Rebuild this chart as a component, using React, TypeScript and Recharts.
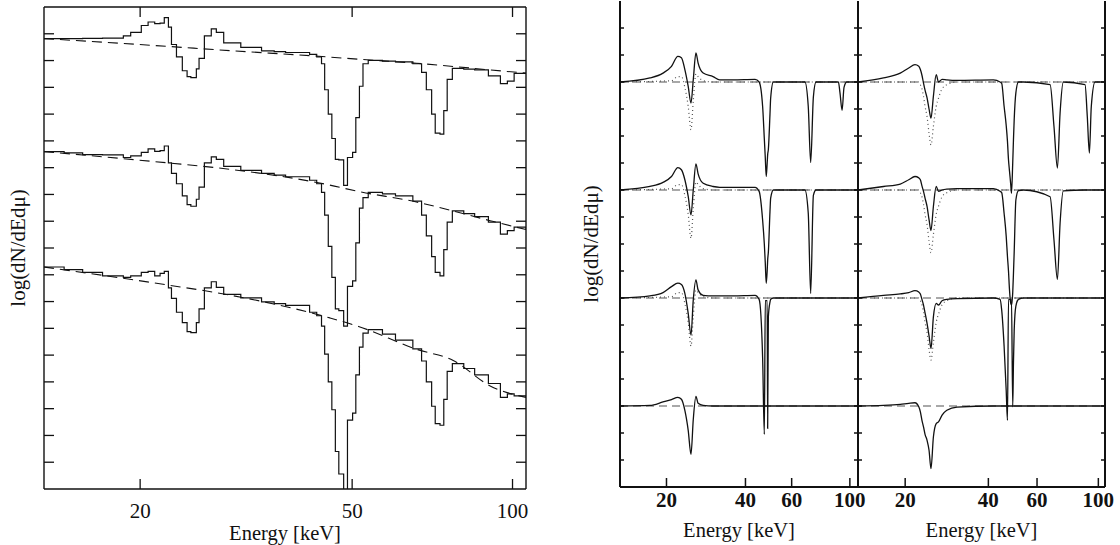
import { LineChart, Line, XAxis, YAxis, ReferenceLine } from "recharts";

const SERIF = '"Liberation Serif", "Times New Roman", serif';
const INK = "#111";

// ---- left panel: binned spectra (three cases) + continuum model ----
const leftEnergy = [
  13.2, 14.4, 15.6, 17.0, 18.6, 19.2, 20.1, 20.7, 21.3, 21.8,
  22.2, 22.6, 22.9, 23.4, 24.0, 24.5, 24.9, 25.5, 25.8, 26.4,
  27.2, 27.8, 28.7, 30.9, 33.8, 35.7, 37.5, 41.6, 42.9, 43.8,
  44.4, 45.1, 45.8, 46.5, 47.2, 47.5, 48.2, 48.6, 49.0, 50.1,
  50.8, 51.6, 52.4, 53.6, 57.0, 60.3, 65.0, 67.5, 68.9, 70.5,
  71.6, 73.1, 74.3, 75.4, 77.1, 81.0, 84.9, 90.1, 94.9, 97.8,
  100.7, 106.0,
];
const leftTop = [
  16.82, 16.82, 16.83, 16.84, 16.92, 17.05, 17.31, 17.44, 17.38, 17.4,
  17.6, 17.25, 16.6, 16.14, 15.62, 15.4, 15.36, 15.69, 16.08, 16.92,
  17.18, 17.05, 16.66, 16.49, 16.36, 16.33, 16.3, 16.23, 16.14, 15.88,
  14.91, 14.0, 13.09, 12.31, 12.29, 12.29, 11.34, 11.34, 12.38, 12.57,
  13.87, 15.04, 15.88, 16.01, 15.98, 15.95, 15.88, 15.56, 14.91, 14.0,
  13.29, 13.25, 14.13, 15.3, 15.71, 15.68, 15.65, 15.43, 15.14, 15.23,
  15.52, 15.53,
];
const leftMid = [
  12.6, 12.55, 12.49, 12.48, 12.38, 12.44, 12.57, 12.7, 12.61, 12.64,
  12.81, 12.18, 11.79, 11.4, 10.95, 10.62, 10.56, 10.82, 11.27, 12.18,
  12.4, 12.31, 12.05, 11.9, 11.79, 11.72, 11.66, 11.53, 11.4, 11.08,
  10.23, 9.06, 7.9, 6.73, 6.66, 6.66, 6.08, 6.08, 7.57, 7.77,
  9.19, 10.49, 10.88, 11.08, 11.02, 10.95, 10.75, 10.23, 9.45, 8.68,
  8.09, 7.96, 8.94, 9.97, 10.39, 10.28, 10.17, 9.97, 9.52, 9.65,
  9.78, 9.69,
];
const leftLow = [
  8.29, 8.19, 8.09, 7.96, 7.9, 7.96, 8.09, 8.13, 7.96, 8.05,
  8.13, 7.51, 7.12, 6.6, 6.21, 5.88, 5.84, 6.21, 6.73, 7.51,
  7.74, 7.53, 7.27, 7.14, 6.99, 6.92, 6.86, 6.6, 6.47, 6.08,
  5.04, 4.0, 2.96, 1.4, 0.56, 0.56, -0.5, -0.5, 2.57, 2.83,
  4.26, 5.3, 5.82, 5.95, 5.78, 5.56, 5.23, 4.78, 4.0, 3.09,
  2.44, 2.38, 3.35, 4.39, 4.68, 4.5, 4.26, 3.94, 3.42, 3.55,
  3.48, 3.42,
];
const contEnergy = [13.2, 22.5, 28, 45.4, 51.4, 66, 77.4, 90.8, 106];
const contTop = [16.82, 16.53, 16.4, 16.13, 16.05, 15.9, 15.78, 15.65, 15.53];
const contMid = [12.6, 12.18, 11.99, 11.35, 11.11, 10.72, 10.38, 10.02, 9.69];
const contLow = [8.29, 7.62, 7.32, 6.39, 6.07, 5.22, 4.8, 3.85, 3.42];

// ---- right panels: four cases each, baselines at 15, 11, 7, 3 ----
const baselines = [15, 11, 7, 3];

const rlEnergy = [
  13.3, 17.3, 19.4, 20.9, 22.1, 22.8, 23.5, 24.2, 24.8, 25.3,
  25.9, 26.4, 27.6, 30.1, 31.9, 35.9, 43.5, 45.1, 46.5, 47.2,
  47.6, 48.0, 48.4, 48.6, 48.9, 49.6, 49.9, 51.1, 57.4, 67.4,
  69.4, 70.9, 72.6, 74.3, 81.6, 90.4, 91.7, 93.4, 95.0, 97.3,
  107.4,
];
const rl1 = [
  15.0, 15.15, 15.33, 15.58, 15.95, 15.9, 15.46, 14.84, 14.22, 15.08,
  16.08, 15.7, 15.33, 15.2, 15.08, 15.08, 15.1, 15.0, 14.1, 12.9,
  12.2, 11.5, 12.0, 12.3, 12.5, 13.8, 14.4, 15.0, 15.0, 15.0,
  14.1, 12.02, 14.45, 15.0, 15.0, 15.0, 14.6, 13.95, 14.8, 15.0,
  15.0,
];
const rl2 = [
  11.0, 11.13, 11.28, 11.5, 11.83, 11.75, 11.38, 10.76, 10.08, 11.0,
  11.97, 11.6, 11.25, 11.13, 11.1, 11.1, 11.1, 10.95, 9.89, 9.0,
  8.3, 7.54, 8.0, 8.4, 8.7, 10.2, 10.7, 11.0, 11.0, 11.0,
  10.15, 7.17, 10.8, 11.0, 11.0, 11.0, 11.0, 11.0, 11.0, 11.0,
  11.0,
];
const rl3 = [
  7.0, 7.08, 7.2, 7.42, 7.55, 7.5, 7.17, 6.43, 5.63, 6.93,
  7.67, 7.3, 7.1, 7.08, 7.08, 7.08, 7.1, 6.95, 4.8, 1.95,
  6.9, 6.9, 6.9, 2.17, 6.3, 6.85, 6.95, 7.0, 7.0, 7.0,
  7.0, 7.0, 7.0, 7.0, 7.0, 7.0, 7.0, 7.0, 7.0, 7.0,
  7.0,
];
const rl4 = [
  3.0, 3.02, 3.15, 3.24, 3.32, 3.25, 2.84, 2.1, 1.21, 2.5,
  3.36, 3.1, 3.02, 3.0, 3.0, 3.0, 3.0, 3.0, 3.0, 3.0,
  3.0, 3.0, 3.0, 3.0, 3.0, 3.0, 3.0, 3.0, 3.0, 3.0,
  3.0, 3.0, 3.0, 3.0, 3.0, 3.0, 3.0, 3.0, 3.0, 3.0,
  3.0,
];
const rlDotEnergy = [13.3, 20.9, 22.1, 22.8, 23.5, 24.2, 24.8, 25.3, 25.9, 26.4, 27.6, 30.1, 107.4];
const rlDot1 = [15.0, 15.05, 15.2, 15.2, 14.8, 14.1, 13.23, 14.3, 15.3, 15.2, 15.05, 15.0, 15.0];
const rlDot2 = [11.0, 11.05, 11.2, 11.2, 10.8, 10.1, 9.21, 10.3, 11.3, 11.2, 11.05, 11.0, 11.0];
const rlDot3 = [7.0, 7.05, 7.2, 7.2, 6.8, 6.1, 5.22, 6.3, 7.3, 7.2, 7.05, 7.0, 7.0];

const rrEnergy = [
  13.5, 16.7, 19.2, 20.6, 21.7, 22.4, 22.7, 23.0, 23.3, 23.6,
  24.0, 24.4, 24.8, 25.3, 25.9, 26.4, 27.2, 28.3, 30.8, 41.7,
  44.1, 44.7, 45.6, 46.4, 46.9, 47.3, 47.7, 48.2, 48.5, 49.0,
  49.3, 49.6, 50.3, 51.4, 53.6, 66.9, 69.1, 71.1, 72.7, 74.7,
  89.5, 91.2, 92.8, 94.3, 97.3, 105.7,
];
const rr1 = [
  15.0, 15.15, 15.33, 15.52, 15.64, 15.58, 15.46, 15.25, 14.96, 14.7,
  14.41, 14.0, 13.66, 14.47, 15.27, 15.0, 15.1, 15.08, 15.06, 15.08,
  15.0, 14.95, 14.1, 13.4, 12.8, 12.12, 11.7, 11.2, 10.88, 12.0,
  12.86, 13.6, 14.6, 15.0, 15.0, 14.9, 13.35, 11.81, 13.85, 15.0,
  14.9, 13.72, 12.37, 14.1, 15.0, 15.0,
];
const rr2 = [
  11.0, 11.13, 11.22, 11.38, 11.5, 11.45, 11.38, 11.15, 10.95, 10.7,
  10.39, 9.9, 9.5, 10.39, 11.13, 10.95, 11.0, 11.03, 11.05, 11.05,
  10.95, 10.9, 10.14, 9.3, 8.53, 8.0, 7.3, 6.8, 6.74, 7.2,
  7.91, 8.7, 10.63, 10.98, 11.0, 10.75, 9.15, 7.69, 9.77, 10.97,
  11.0, 11.0, 11.0, 11.0, 11.0, 11.0,
];
const rr3 = [
  7.0, 7.1, 7.15, 7.2, 7.27, 7.22, 7.15, 6.95, 6.74, 6.45,
  6.06, 5.6, 5.13, 6.3, 6.8, 6.74, 6.9, 6.95, 6.98, 7.0,
  6.95, 6.55, 5.22, 3.59, 2.47, 6.95, 6.95, 6.95, 6.95, 2.97,
  4.6, 5.8, 6.7, 6.95, 7.0, 7.0, 7.0, 7.0, 7.0, 7.0,
  7.0, 7.0, 7.0, 7.0, 7.0, 7.0,
];
const rr4 = [
  3.0, 3.02, 3.06, 3.1, 3.12, 2.97, 2.78, 2.47, 2.23, 1.95,
  1.73, 1.36, 0.68, 1.85, 2.35, 2.41, 2.66, 2.84, 2.96, 3.0,
  3.0, 3.0, 3.0, 3.0, 3.0, 3.0, 3.0, 3.0, 3.0, 3.0,
  3.0, 3.0, 3.0, 3.0, 3.0, 3.0, 3.0, 3.0, 3.0, 3.0,
  3.0, 3.0, 3.0, 3.0, 3.0, 3.0,
];
const rrDotEnergy = [13.5, 22.4, 22.7, 23.0, 23.3, 23.6, 24.0, 24.4, 24.8, 25.3, 25.9, 26.4, 27.2, 28.3, 30.8, 105.7];
const rrDot1 = [15.0, 15.0, 14.9, 14.75, 14.47, 14.1, 13.72, 13.1, 12.67, 13.35, 14.1, 14.4, 14.75, 14.9, 15.0, 15.0];
const rrDot2 = [11.0, 11.0, 10.9, 10.75, 10.47, 10.1, 9.72, 9.1, 8.68, 9.35, 10.1, 10.4, 10.75, 10.9, 11.0, 11.0];
const rrDot3 = [7.0, 7.0, 6.9, 6.75, 6.47, 6.1, 5.72, 5.1, 4.7, 5.35, 6.1, 6.4, 6.75, 6.9, 7.0, 7.0];

const yTicks = [1, 2, 3, 4, 5, 6, 7, 8, 9, 10, 11, 12, 13, 14, 15, 16, 17];
const leftXTicks = [20, 50, 100];
const rightXTicks = [20, 40, 60, 100];

const pairs = (es: number[], vs: number[]) => es.map((e, i) => ({ e, v: vs[i] }));

// axes are 1px thick with zero tick size, so the tick x/y sits on the axis line;
// the marks are drawn pointing into the plot
const markTick = (dx: number, dy: number, w: number) => (p: any) => (
  <line x1={p.x} y1={p.y} x2={p.x + dx} y2={p.y + dy} stroke={INK} strokeWidth={w} />
);

const labelTick = (len: number, gap: number, size: number, bold: boolean, w: number) => (p: any) => (
  <g>
    <line x1={p.x} y1={p.y} x2={p.x} y2={p.y - len} stroke={INK} strokeWidth={w} />
    <text
      x={p.x}
      y={p.y + gap}
      textAnchor="middle"
      fontFamily={SERIF}
      fontSize={size}
      fontWeight={bold ? 700 : 400}
      fill={INK}
    >
      {p.payload.value}
    </text>
  </g>
);

const yTitle = (offset: number) => ({
  value: "log(dN/dEdμ)",
  angle: -90,
  position: "left" as const,
  offset,
  fontSize: 21,
  fontFamily: SERIF,
  fill: INK,
  style: { textAnchor: "middle" },
});

const xTitle = (offset: number) => ({
  value: "Energy [keV]",
  position: "bottom" as const,
  offset,
  fontSize: 20.5,
  fontFamily: SERIF,
  fill: INK,
});

function LeftPanel() {
  const spectra = [leftTop, leftMid, leftLow];
  const conts = [contTop, contMid, contLow];
  const axisLine = { stroke: INK, strokeWidth: 1.4 };
  return (
    <LineChart width={560} height={545} margin={{ top: 6, right: 33, bottom: 55, left: 43 }}>
      <XAxis
        xAxisId="b"
        dataKey="e"
        type="number"
        scale="log"
        domain={[13.2, 106]}
        allowDataOverflow
        ticks={leftXTicks}
        interval={0}
        height={1}
        tickSize={0}
        tickMargin={0}
        tickLine={false}
        axisLine={axisLine}
        tick={labelTick(10, 29, 21, false, 1.3)}
        label={xTitle(35)}
      />
      <XAxis
        xAxisId="t"
        orientation="top"
        dataKey="e"
        type="number"
        scale="log"
        domain={[13.2, 106]}
        allowDataOverflow
        ticks={leftXTicks}
        interval={0}
        height={1}
        tickSize={0}
        tickMargin={0}
        tickLine={false}
        axisLine={axisLine}
        tick={markTick(0, 10, 1.3)}
      />
      <YAxis
        yAxisId="l"
        type="number"
        domain={[0, 18]}
        allowDataOverflow
        ticks={yTicks}
        interval={0}
        width={1}
        tickSize={0}
        tickMargin={0}
        tickLine={false}
        axisLine={axisLine}
        tick={markTick(10, 0, 1.3)}
        label={yTitle(25)}
      />
      <YAxis
        yAxisId="r"
        orientation="right"
        type="number"
        domain={[0, 18]}
        allowDataOverflow
        ticks={yTicks}
        interval={0}
        width={1}
        tickSize={0}
        tickMargin={0}
        tickLine={false}
        axisLine={axisLine}
        tick={markTick(-10, 0, 1.3)}
      />
      {conts.map((c, i) => (
        <Line
          key={"c" + i}
          xAxisId="b"
          yAxisId="l"
          data={pairs(contEnergy, c)}
          dataKey="v"
          type="monotone"
          stroke={INK}
          strokeWidth={1.1}
          strokeDasharray="10 6"
          dot={false}
          isAnimationActive={false}
        />
      ))}
      {spectra.map((s, i) => (
        <Line
          key={"s" + i}
          xAxisId="b"
          yAxisId="l"
          data={pairs(leftEnergy, s)}
          dataKey="v"
          type="stepAfter"
          stroke={INK}
          strokeWidth={1.2}
          dot={false}
          isAnimationActive={false}
        />
      ))}
    </LineChart>
  );
}

type PanelProps = {
  energy: number[];
  spectra: number[][];
  dotEnergy: number[];
  dotted: number[][];
  domain: [number, number];
  width: number;
  left: number;
  right: number;
  withTitle: boolean;
};

function CasePanel({ energy, spectra, dotEnergy, dotted, domain, width, left, right, withTitle }: PanelProps) {
  const axisLine = { stroke: INK, strokeWidth: 2 };
  return (
    <LineChart width={width} height={545} margin={{ top: 1, right, bottom: 57, left }}>
      <XAxis
        xAxisId="b"
        dataKey="e"
        type="number"
        scale="log"
        domain={domain}
        allowDataOverflow
        ticks={rightXTicks}
        interval={0}
        height={1}
        tickSize={0}
        tickMargin={0}
        tickLine={false}
        axisLine={axisLine}
        tick={labelTick(9, 20, 21, true, 1.5)}
        label={xTitle(34)}
      />
      <YAxis
        yAxisId="l"
        type="number"
        domain={[0, 18]}
        allowDataOverflow
        ticks={yTicks}
        interval={0}
        width={1}
        tickSize={0}
        tickMargin={0}
        tickLine={false}
        axisLine={axisLine}
        tick={markTick(4, 0, 1.5)}
        label={withTitle ? yTitle(28) : undefined}
      />
      <YAxis
        yAxisId="r"
        orientation="right"
        type="number"
        domain={[0, 18]}
        allowDataOverflow
        ticks={yTicks}
        interval={0}
        width={1}
        tickSize={0}
        tickMargin={0}
        tickLine={false}
        axisLine={axisLine}
        tick={markTick(-4, 0, 1.5)}
      />
      {baselines.map((b) => (
        <ReferenceLine
          key={"b" + b}
          xAxisId="b"
          yAxisId="l"
          y={b}
          stroke="#8c8c8c"
          strokeWidth={1.6}
          strokeDasharray="8 5"
        />
      ))}
      {dotted.map((d, i) => (
        <Line
          key={"d" + i}
          xAxisId="b"
          yAxisId="l"
          data={pairs(dotEnergy, d)}
          dataKey="v"
          type="monotone"
          stroke="#555"
          strokeWidth={1.2}
          strokeDasharray="1 3"
          dot={false}
          isAnimationActive={false}
        />
      ))}
      {spectra.map((s, i) => (
        <Line
          key={"s" + i}
          xAxisId="b"
          yAxisId="l"
          data={pairs(energy, s)}
          dataKey="v"
          type="monotone"
          stroke={INK}
          strokeWidth={1.3}
          dot={false}
          isAnimationActive={false}
        />
      ))}
    </LineChart>
  );
}

export default function App() {
  return (
    <div style={{ position: "absolute", left: 0, top: 0, width: 1120, height: 545, background: "#fff" }}>
      <div style={{ position: "absolute", left: 0, top: 0 }}>
        <LeftPanel />
      </div>
      <div style={{ position: "absolute", left: 838, top: 0 }}>
        <CasePanel
          energy={rrEnergy}
          spectra={[rr1, rr2, rr3, rr4]}
          dotEnergy={rrDotEnergy}
          dotted={[rrDot1, rrDot2, rrDot3]}
          domain={[13.5, 105.7]}
          width={282}
          left={19}
          right={14}
          withTitle={false}
        />
      </div>
      <div style={{ position: "absolute", left: 560, top: 0 }}>
        <CasePanel
          energy={rlEnergy}
          spectra={[rl1, rl2, rl3, rl4]}
          dotEnergy={rlDotEnergy}
          dotted={[rlDot1, rlDot2, rlDot3]}
          domain={[13.3, 107.4]}
          width={322}
          left={59}
          right={23}
          withTitle
        />
      </div>
    </div>
  );
}
